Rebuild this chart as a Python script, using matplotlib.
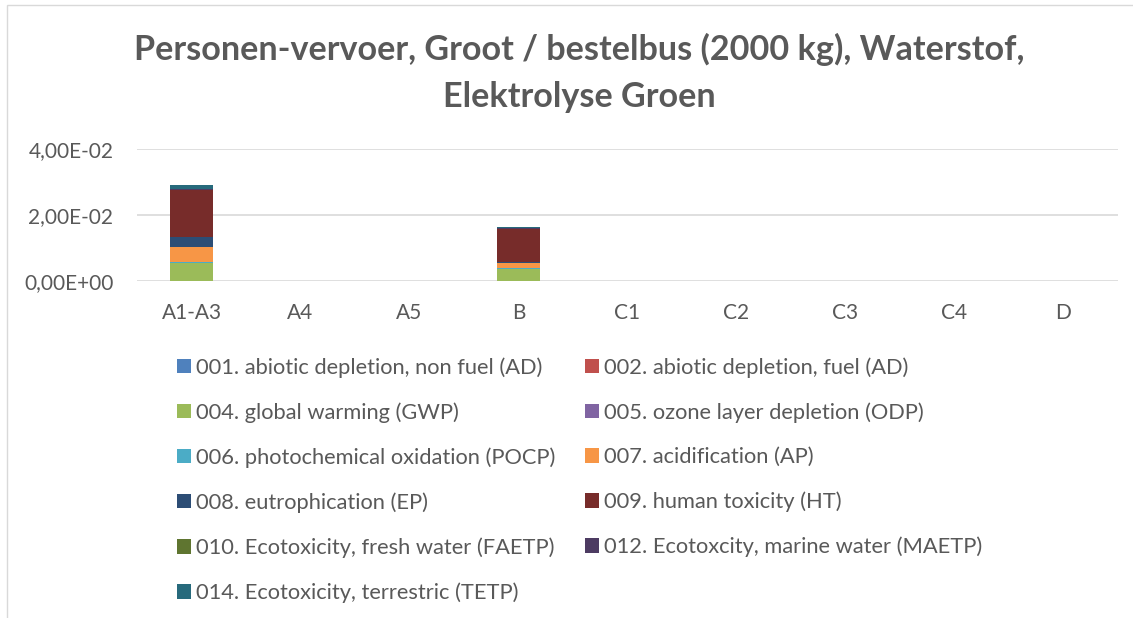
import matplotlib
matplotlib.use("Agg")
import matplotlib.pyplot as plt
from matplotlib.patches import Rectangle
from matplotlib.ticker import FuncFormatter, FixedLocator
import numpy as np

# Life-cycle phases
categories = ["A1-A3", "A4", "A5", "B", "C1", "C2", "C3", "C4", "D"]

# Impact categories (stack order, bottom to top)
series_names = [
    "001. abiotic depletion, non fuel (AD)",
    "002. abiotic depletion, fuel (AD)",
    "004. global warming (GWP)",
    "005. ozone layer depletion (ODP)",
    "006. photochemical oxidation (POCP)",
    "007. acidification (AP)",
    "008. eutrophication (EP)",
    "009. human toxicity (HT)",
    "010. Ecotoxicity, fresh water (FAETP)",
    "012. Ecotoxcity, marine water (MAETP)",
    "014. Ecotoxicity, terrestric (TETP)",
]
series_colors = [
    "#4F81BD", "#C0504D", "#9BBB59", "#8064A2", "#4BACC6", "#F79646",
    "#2C4D75", "#772C2A", "#5F7530", "#4D3B62", "#276A7C",
]

# Shadow costs per impact category (EUR), per phase
ad_non_fuel = [0.00001, 0, 0, 0.000005, 0, 0, 0, 0, 0]
ad_fuel     = [0.00004, 0, 0, 0.00002, 0, 0, 0, 0, 0]
gwp         = [0.0054, 0, 0, 0.0037, 0, 0, 0, 0, 0]
odp         = [0.000001, 0, 0, 0.000001, 0, 0, 0, 0, 0]
pocp        = [0.0002, 0, 0, 0.0002, 0, 0, 0, 0, 0]
ap          = [0.0048, 0, 0, 0.0015, 0, 0, 0, 0, 0]
ep          = [0.0030, 0, 0, 0.0004, 0, 0, 0, 0, 0]
ht          = [0.0142, 0, 0, 0.0100, 0, 0, 0, 0, 0]
faetp       = [0.00005, 0, 0, 0.00003, 0, 0, 0, 0, 0]
maetp       = [0.0003, 0, 0, 0.0003, 0, 0, 0, 0, 0]
tetp        = [0.0010, 0, 0, 0.0003, 0, 0, 0, 0, 0]

series_values = [ad_non_fuel, ad_fuel, gwp, odp, pocp, ap, ep, ht, faetp, maetp, tetp]

y_ticks = [0.0, 0.02, 0.04]

TEXT = "#595959"
GRID = "#D9D9D9"
FONT = "Lato"

fig = plt.figure(figsize=(11.33, 6.18), dpi=100)
fig.patch.set_facecolor("white")

# chart-area border
fig.patches.append(Rectangle((7 / 1133, -0.05), 1.2, 1 - 5 / 618 + 0.05,
                             transform=fig.transFigure, fill=False,
                             edgecolor=GRID, linewidth=1.0))

ax = fig.add_axes([137 / 1133, 337 / 618, 981 / 1133, 132 / 618])
x = np.arange(len(categories))
bottom = np.zeros(len(categories))
handles = []
for name, vals, col in zip(series_names, series_values, series_colors):
    v = np.array(vals, dtype=float)
    b = ax.bar(x, v, width=0.4, bottom=bottom, color=col, label=name,
               linewidth=0, zorder=3)
    handles.append(b)
    bottom += v

ax.set_xlim(-0.5, len(categories) - 0.5)
ax.set_ylim(0, 0.04)
ax.yaxis.set_major_locator(FixedLocator(y_ticks))
ax.yaxis.set_major_formatter(FuncFormatter(lambda v, p: f"{v:.2E}".replace(".", ",")))
ax.set_xticks(x)
ax.set_xticklabels(categories)
ax.tick_params(axis="both", length=0, colors=TEXT, labelsize=15)
ax.tick_params(axis="x", pad=16)
ax.tick_params(axis="y", pad=17)
for lbl in ax.get_xticklabels() + ax.get_yticklabels():
    lbl.set_fontfamily(FONT)
ax.grid(axis="y", color=GRID, linewidth=1.2, zorder=0)
for s in ax.spines.values():
    s.set_visible(False)

fig.text(579 / 1133, 1 - 73 / 618,
         "Personen-vervoer, Groot / bestelbus (2000 kg), Waterstof,\nElektrolyse Groen",
         ha="center", va="center", fontsize=24.6, fontweight="bold", color=TEXT,
         family=FONT, linespacing=1.6)

# legend filled row by row, two columns
order = list(range(0, len(handles), 2)) + list(range(1, len(handles), 2))
leg = fig.legend([handles[i] for i in order], [series_names[i] for i in order],
                 ncol=2, loc="upper left", bbox_to_anchor=(177 / 1133, 1 - 357 / 618),
                 frameon=False, prop={"family": FONT, "size": 15.75},
                 handlelength=0.64, handleheight=0.64, handletextpad=0.23,
                 labelspacing=1.12, columnspacing=1.37, borderpad=0, borderaxespad=0)
for t in leg.get_texts():
    t.set_color(TEXT)

fig.savefig("out.png", dpi=100, facecolor="white")
